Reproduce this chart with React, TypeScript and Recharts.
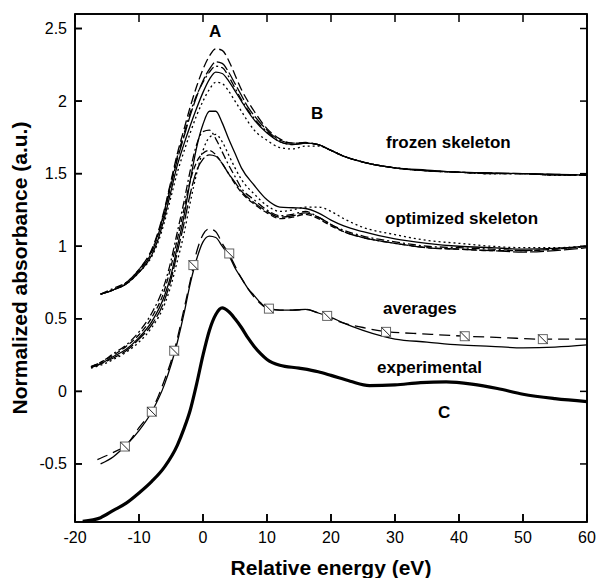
import React from "react";
import {
  ComposedChart,
  Line,
  Scatter,
  XAxis,
  YAxis,
  ReferenceArea,
} from "recharts";

// frozen skeleton curves share one energy grid
const frozenX = [-16, -14, -12, -10, -8, -7, -6, -5, -4, -3, -2, -1, 0, 1, 2, 3, 4, 5, 6, 7, 8, 10, 12, 14, 16, 18, 20, 22, 25, 30, 35, 40, 45, 50, 55, 60];
const frozenSolid = [0.67, 0.7, 0.74, 0.82, 0.94, 1.05, 1.2, 1.38, 1.56, 1.7, 1.83, 1.95, 2.06, 2.15, 2.2, 2.19, 2.14, 2.07, 2.0, 1.93, 1.87, 1.78, 1.72, 1.7, 1.71, 1.7, 1.66, 1.62, 1.58, 1.54, 1.525, 1.51, 1.505, 1.5, 1.495, 1.49];
const frozenDash = [0.67, 0.7, 0.75, 0.84, 0.98, 1.1, 1.26, 1.45, 1.64, 1.8, 1.96, 2.1, 2.22, 2.31, 2.36, 2.35, 2.28, 2.18, 2.08, 2.0, 1.93, 1.81, 1.74, 1.71, 1.715, 1.7, 1.66, 1.62, 1.58, 1.54, 1.52, 1.51, 1.5, 1.5, 1.49, 1.49];
const frozenLongDash = [0.67, 0.7, 0.74, 0.83, 0.96, 1.08, 1.23, 1.42, 1.6, 1.75, 1.9, 2.03, 2.14, 2.22, 2.27, 2.26, 2.2, 2.12, 2.04, 1.96, 1.9, 1.8, 1.73, 1.71, 1.71, 1.7, 1.66, 1.62, 1.58, 1.54, 1.52, 1.51, 1.505, 1.5, 1.495, 1.49];
const frozenDot = [0.67, 0.7, 0.74, 0.82, 0.93, 1.03, 1.17, 1.34, 1.51, 1.65, 1.78, 1.9, 2.0, 2.08, 2.13, 2.12, 2.07, 2.0, 1.93, 1.86, 1.8, 1.73, 1.68, 1.67, 1.69, 1.69, 1.66, 1.62, 1.58, 1.54, 1.52, 1.51, 1.5, 1.5, 1.49, 1.49];
const frozenDashDot = [0.67, 0.71, 0.75, 0.84, 0.97, 1.09, 1.25, 1.44, 1.62, 1.77, 1.92, 2.04, 2.13, 2.2, 2.24, 2.23, 2.17, 2.09, 2.01, 1.94, 1.88, 1.79, 1.72, 1.7, 1.71, 1.7, 1.66, 1.62, 1.58, 1.54, 1.52, 1.51, 1.5, 1.5, 1.49, 1.49];

// optimized skeleton curves
const optX = [-17.5, -16, -14, -12, -10, -8, -6, -5, -4, -3, -2, -1, 0, 1, 2, 3, 4, 5, 6, 8, 10, 12, 14, 16, 18, 20, 22, 25, 30, 35, 40, 45, 50, 55, 60];
const optSolid = [0.165, 0.19, 0.24, 0.29, 0.37, 0.48, 0.66, 0.8, 1.0, 1.2, 1.45, 1.68, 1.84, 1.93, 1.93, 1.85, 1.74, 1.64, 1.54, 1.42, 1.32, 1.27, 1.265, 1.26, 1.23, 1.18, 1.14, 1.1, 1.05, 1.02, 1.0, 0.99, 0.98, 0.985, 1.0];
const optDashDot = [0.17, 0.2, 0.26, 0.32, 0.41, 0.54, 0.74, 0.9, 1.1, 1.3, 1.52, 1.7, 1.79, 1.8, 1.74, 1.65, 1.56, 1.48, 1.4, 1.32, 1.25, 1.21, 1.22, 1.24, 1.2, 1.15, 1.11, 1.07, 1.03, 1.0, 0.99, 0.98, 0.97, 0.98, 1.0];
const optDot = [0.16, 0.18, 0.22, 0.27, 0.34, 0.44, 0.6, 0.73, 0.9, 1.08, 1.3, 1.5, 1.66, 1.75, 1.77, 1.72, 1.63, 1.54, 1.46, 1.36, 1.28, 1.24, 1.25, 1.27, 1.27, 1.24, 1.19, 1.13, 1.08, 1.04, 1.02, 1.0, 0.99, 0.99, 1.0];
const optLongDash = [0.165, 0.19, 0.23, 0.28, 0.36, 0.46, 0.63, 0.77, 0.96, 1.15, 1.36, 1.52, 1.6, 1.63, 1.62, 1.57, 1.5, 1.44, 1.38, 1.3, 1.24, 1.2, 1.21, 1.23, 1.2, 1.15, 1.1, 1.06, 1.02, 0.99, 0.98, 0.97, 0.96, 0.97, 0.99];
const optDash = [0.17, 0.2, 0.25, 0.31, 0.39, 0.51, 0.7, 0.86, 1.05, 1.25, 1.45, 1.58, 1.64, 1.66, 1.63, 1.57, 1.5, 1.43, 1.37, 1.29, 1.23, 1.19, 1.2, 1.22, 1.19, 1.14, 1.1, 1.06, 1.02, 0.99, 0.98, 0.97, 0.97, 0.98, 1.0];

// averages
const avgSolidX = [-16, -14, -12, -10, -8, -6, -4, -3, -2, -1, 0, 1, 2, 3, 4, 5, 6, 7, 8, 9, 10, 12, 14, 16, 18, 20, 22, 25, 28, 30, 35, 40, 45, 50, 55, 60];
const avgSolid = [-0.5, -0.45, -0.37, -0.27, -0.14, 0.05, 0.34, 0.53, 0.74, 0.91, 1.03, 1.07, 1.06, 1.0, 0.94, 0.85, 0.78, 0.71, 0.66, 0.61, 0.575, 0.56, 0.56, 0.565, 0.54, 0.51, 0.47, 0.42, 0.38, 0.36, 0.34, 0.32, 0.31, 0.3, 0.305, 0.32];
const avgDashX = [-16.5, -14, -12, -10, -8, -6, -4.5, -3, -2, -1, 0, 1, 2, 3, 4, 6, 8, 10, 12, 14, 16, 19, 22, 25, 28, 35, 41, 47, 53, 60];
const avgDash = [-0.47, -0.42, -0.37, -0.25, -0.13, 0.08, 0.28, 0.56, 0.76, 0.96, 1.08, 1.12, 1.1, 1.02, 0.95, 0.78, 0.65, 0.575, 0.56, 0.56, 0.565, 0.52, 0.47, 0.44, 0.415, 0.395, 0.38, 0.37, 0.36, 0.36];
const markerX = [-12.2, -8, -4.5, -1.5, 4.1, 10.3, 19.4, 28.6, 40.9, 53.1];
const markerY = [-0.38, -0.14, 0.28, 0.87, 0.95, 0.57, 0.52, 0.41, 0.38, 0.36];

// experimental
const expX = [-18.8, -16, -14, -12, -10, -8, -6, -4, -3, -2, -1, 0, 1, 2, 3, 4, 5, 6, 7, 8, 9, 10, 12, 15, 18, 20, 23, 26, 30, 34, 38, 42, 46, 50, 55, 60];
const expY = [-0.895, -0.87, -0.82, -0.77, -0.7, -0.62, -0.52, -0.37, -0.26, -0.13, 0.05, 0.25, 0.42, 0.53, 0.575, 0.55, 0.5, 0.44, 0.37, 0.31, 0.26, 0.22, 0.18, 0.16, 0.135, 0.11, 0.07, 0.04, 0.045, 0.06, 0.065, 0.05, 0.02, -0.02, -0.05, -0.07];

const xTicks = [-20, -10, 0, 10, 20, 30, 40, 50, 60];
const yTicks = [-0.5, 0, 0.5, 1, 1.5, 2, 2.5];
const xDomain = [-20, 60];
const yDomain = [-0.9, 2.6];

const toPts = (xs: number[], ys: number[]) => xs.map((x, i) => ({ x, y: ys[i] }));

const INK = "#000";
const FONT = "'Liberation Sans', Arial, Helvetica, sans-serif";

// plot box inside the 598x578 chart (margins + axis sizes below)
const W = 598;
const H = 578;
const BOX = { left: 75, top: 14, right: 587, bottom: 522 };

const series = [
  { key: "f1", data: toPts(frozenX, frozenSolid), dash: undefined },
  { key: "f2", data: toPts(frozenX, frozenDash), dash: "9 4" },
  { key: "f3", data: toPts(frozenX, frozenLongDash), dash: "14 3" },
  { key: "f4", data: toPts(frozenX, frozenDot), dash: "2 3" },
  { key: "f5", data: toPts(frozenX, frozenDashDot), dash: "8 3 2 3" },
  { key: "o1", data: toPts(optX, optSolid), dash: undefined },
  { key: "o2", data: toPts(optX, optDashDot), dash: "8 3 2 3" },
  { key: "o3", data: toPts(optX, optDot), dash: "2 3" },
  { key: "o4", data: toPts(optX, optLongDash), dash: "14 3" },
  { key: "o5", data: toPts(optX, optDash), dash: "6 3" },
];

const BottomTick = (props: any) => {
  const x = Number(props.x);
  const y = Number(props.y);
  return (
    <g>
      <path d={`M${x},${y}V${y - 8}`} stroke={INK} strokeWidth={1.6} fill="none" />
      <text x={x} y={y + 21} textAnchor="middle" fontSize={16} fontFamily={FONT} fill={INK}>
        {props.payload.value}
      </text>
    </g>
  );
};

const LeftTick = (props: any) => {
  const x = Number(props.x);
  const y = Number(props.y);
  return (
    <g>
      <path d={`M${x},${y}H${x + 7}`} stroke={INK} strokeWidth={1.6} fill="none" />
      <text x={x - 8} y={y + 5.5} textAnchor="end" fontSize={16} fontFamily={FONT} fill={INK}>
        {props.payload.value}
      </text>
    </g>
  );
};

const SquareMark = (props: any) => {
  const { cx, cy } = props;
  return (
    <g>
      <rect x={cx - 4.5} y={cy - 4.5} width={9} height={9} fill="#fff" stroke="#666" strokeWidth={1} />
      <line x1={cx - 4.5} y1={cy - 4.5} x2={cx + 4.5} y2={cy + 4.5} stroke="#222" strokeWidth={1} />
    </g>
  );
};

// frame and inward tick marks on all four sides, laid on top of the chart
const sx = (v: number) => BOX.left + ((v - xDomain[0]) / (xDomain[1] - xDomain[0])) * (BOX.right - BOX.left);
const sy = (v: number) => BOX.bottom - ((v - yDomain[0]) / (yDomain[1] - yDomain[0])) * (BOX.bottom - BOX.top);

function Frame() {
  return (
    <svg
      width={W}
      height={H}
      style={{ position: "absolute", left: 0, top: 0, pointerEvents: "none" }}
    >
      <rect
        x={BOX.left}
        y={BOX.top}
        width={BOX.right - BOX.left}
        height={BOX.bottom - BOX.top}
        fill="none"
        stroke={INK}
        strokeWidth={1.5}
      />
      {xTicks.map((t) => (
        <g key={"x" + t}>
          <line x1={sx(t)} x2={sx(t)} y1={BOX.bottom} y2={BOX.bottom - 8} stroke={INK} strokeWidth={1.5} />
          <line x1={sx(t)} x2={sx(t)} y1={BOX.top} y2={BOX.top + 8} stroke={INK} strokeWidth={1.5} />
        </g>
      ))}
      {yTicks.map((t) => (
        <g key={"y" + t}>
          <line x1={BOX.left} x2={BOX.left + 7} y1={sy(t)} y2={sy(t)} stroke={INK} strokeWidth={1.5} />
          <line x1={BOX.right} x2={BOX.right - 7} y1={sy(t)} y2={sy(t)} stroke={INK} strokeWidth={1.5} />
        </g>
      ))}
    </svg>
  );
}

const labelStyle: React.CSSProperties = {
  position: "absolute",
  fontFamily: FONT,
  fontWeight: "bold",
  fontSize: 17,
  lineHeight: 1,
  whiteSpace: "nowrap",
  color: INK,
  transform: "translateY(-50%)",
};

export default function App() {
  return (
    <div style={{ position: "absolute", left: 0, top: 0, width: W, height: H }}>
      <ComposedChart width={W} height={H} margin={{ top: 4, right: 1, bottom: 0, left: 0 }}>
        <XAxis
          xAxisId="b"
          type="number"
          dataKey="x"
          domain={xDomain}
          ticks={xTicks}
          allowDataOverflow
          height={56}
          tickSize={0}
          tickMargin={0}
          tickLine={false}
          stroke={INK}
          tick={BottomTick}
        />
        <XAxis
          xAxisId="t"
          orientation="top"
          type="number"
          dataKey="x"
          domain={xDomain}
          ticks={xTicks}
          height={10}
          tick={false}
          tickLine={false}
          stroke={INK}
        />
        <YAxis
          yAxisId="l"
          type="number"
          dataKey="y"
          domain={yDomain}
          ticks={yTicks}
          allowDataOverflow
          width={75}
          tickSize={0}
          tickMargin={0}
          tickLine={false}
          stroke={INK}
          tick={LeftTick}
        />
        <YAxis
          yAxisId="r"
          orientation="right"
          type="number"
          dataKey="y"
          domain={yDomain}
          ticks={yTicks}
          width={10}
          tick={false}
          tickLine={false}
          stroke={INK}
        />
        <ReferenceArea
          xAxisId="b"
          yAxisId="l"
          x1={xDomain[0]}
          x2={xDomain[1]}
          y1={yDomain[0]}
          y2={yDomain[1]}
          fill="none"
          stroke={INK}
          strokeWidth={1.5}
          fillOpacity={0}
        />
        {series.map((s) => (
          <Line
            key={s.key}
            xAxisId="b"
            yAxisId="l"
            data={s.data}
            dataKey="y"
            type="monotone"
            stroke={INK}
            strokeWidth={1.3}
            strokeDasharray={s.dash}
            dot={false}
            activeDot={false}
            isAnimationActive={false}
          />
        ))}
        <Line
          xAxisId="b"
          yAxisId="l"
          data={toPts(avgSolidX, avgSolid)}
          dataKey="y"
          type="monotone"
          stroke={INK}
          strokeWidth={1.3}
          dot={false}
          activeDot={false}
          isAnimationActive={false}
        />
        <Line
          xAxisId="b"
          yAxisId="l"
          data={toPts(avgDashX, avgDash)}
          dataKey="y"
          type="monotone"
          stroke={INK}
          strokeWidth={1.3}
          strokeDasharray="11 6"
          dot={false}
          activeDot={false}
          isAnimationActive={false}
        />
        <Line
          xAxisId="t"
          yAxisId="r"
          data={toPts(expX, expY)}
          dataKey="y"
          type="monotone"
          stroke={INK}
          strokeWidth={3.2}
          dot={false}
          activeDot={false}
          isAnimationActive={false}
        />
        <Scatter
          xAxisId="b"
          yAxisId="l"
          data={toPts(markerX, markerY)}
          dataKey="y"
          shape={SquareMark}
          isAnimationActive={false}
        />
      </ComposedChart>
      <Frame />
      <div style={{ ...labelStyle, left: 209, top: 31 }}>A</div>
      <div style={{ ...labelStyle, left: 311, top: 113 }}>B</div>
      <div style={{ ...labelStyle, left: 386, top: 142 }}>frozen skeleton</div>
      <div style={{ ...labelStyle, left: 385, top: 218 }}>optimized skeleton</div>
      <div style={{ ...labelStyle, left: 383, top: 308 }}>averages</div>
      <div style={{ ...labelStyle, left: 377, top: 367 }}>experimental</div>
      <div style={{ ...labelStyle, left: 438, top: 412 }}>C</div>
      <div
        style={{
          ...labelStyle,
          fontSize: 21,
          left: 331,
          top: 567,
          transform: "translate(-50%, -50%)",
        }}
      >
        Relative energy (eV)
      </div>
      <div
        style={{
          ...labelStyle,
          fontSize: 21,
          left: 19,
          top: 268,
          transform: "translate(-50%, -50%) rotate(-90deg)",
        }}
      >
        Normalized absorbance (a.u.)
      </div>
    </div>
  );
}
